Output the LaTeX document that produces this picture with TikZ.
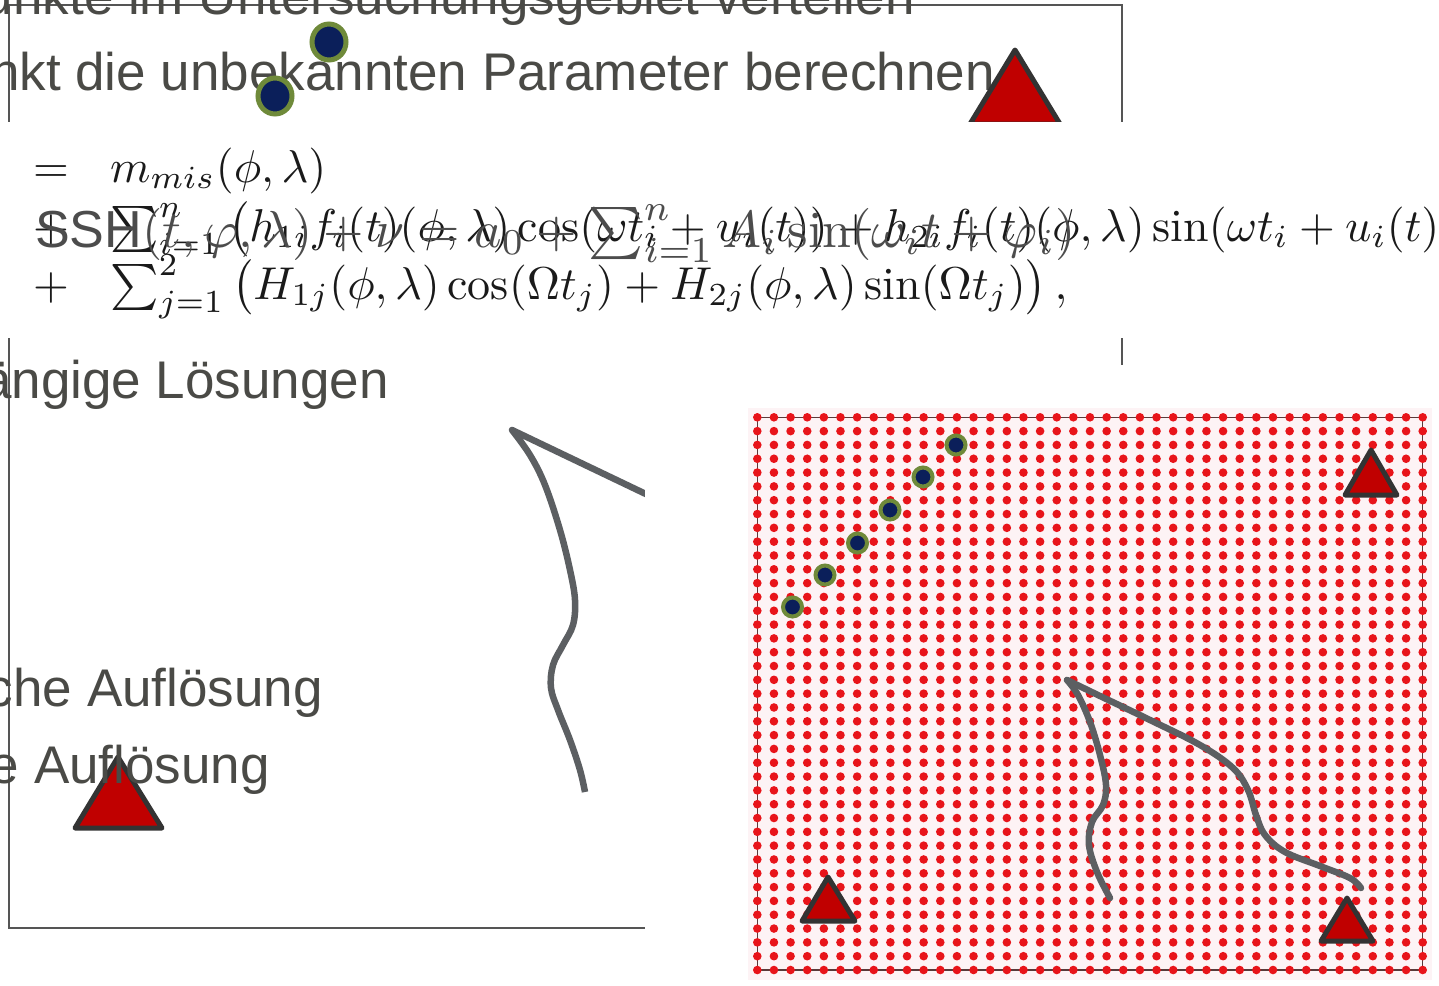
\documentclass[tikz,border=0pt]{standalone}
\usepackage{fontspec}
\usepackage{graphicx}
\newfontfamily\arial{Liberation Sans}
\definecolor{txtgray}{HTML}{4A4A46}
\definecolor{framegray}{HTML}{555555}
\definecolor{trired}{HTML}{C00000}
\definecolor{tristroke}{HTML}{333333}
\definecolor{navy}{HTML}{0B1F5A}
\definecolor{olive}{HTML}{6F8A3A}
\definecolor{gridred}{HTML}{E8141A}
\definecolor{gridline}{HTML}{5A3A3A}
\definecolor{curvegray}{HTML}{5C5F62}
\definecolor{fmlblack}{HTML}{1A1A1A}
\definecolor{sshgray}{HTML}{4C4C4C}
\definecolor{gridbg}{HTML}{FDF3F5}
\begin{document}
\begin{tikzpicture}[x=1pt,y=-1pt,
  slidetext/.style={font=\arial\fontsize{53}{60}\selectfont, text=txtgray, inner sep=0pt, anchor=base east},
  fml/.style={text=fmlblack, inner sep=0pt},
  sshtext/.style={text=sshgray, inner sep=0pt, anchor=base west},
  station/.style={fill=trired, draw=tristroke, line width=5pt, line join=round},
  bigdot/.style={fill=navy, draw=olive, line width=5pt},
  smalldot/.style={fill=navy, draw=olive, line width=4pt},
  curve/.style={draw=curvegray, line width=6.5pt, line join=round, line cap=round},
  frame/.style={draw=framegray, line width=2pt}]
\useasboundingbox (0,0) rectangle (1439,985);
\fill[white] (0,0) rectangle (1439,985);
\clip (0,0) rectangle (1439,985);

% slide frame
\draw[frame] (9,5) rectangle (1122,928);

% top bullet texts (cropped at the left)
\node[slidetext] (t1) at (915,14) {unkte im Untersuchungsgebiet verteilen};
\node[slidetext] (t2) at (995,90) {nkt die unbekannten Parameter berechnen};

% top points
\draw[bigdot] (329,42) ellipse (17pt and 18pt);
\draw[bigdot] (275,96) ellipse (17pt and 18pt);

% top station
\draw[station] (1015,50) -- (1060,124) -- (970,124) -- cycle;

% formula image
\fill[white] (0,122) rectangle (1439,338);
\node[fml, anchor=base] (eq1) at (51,182) {\scalebox{4.6}{$=$}};
\node[fml, anchor=base west] (r1) at (110,182) {\scalebox{4.6}{$m_{mis}(\phi,\lambda)$}};
\node[fml, anchor=base] (eq2) at (51,241) {\scalebox{4.6}{$+$}};
\node[fml, anchor=base west] (r2) at (110,241) {\scalebox{4.6}{$\sum_{i=1}^{n}\,\bigl(h_{1i}f_i(t)(\phi,\lambda)\cos(\omega t_i+u_i(t))+h_{2i}f_i(t)(\phi,\lambda)\sin(\omega t_i+u_i(t))\bigr)$}};
\node[fml, anchor=base] (eq3) at (51,299) {\scalebox{4.6}{$+$}};
\node[fml, anchor=base west] (r3) at (110,299) {\scalebox{4.6}{$\sum_{j=1}^{2}\,\bigl(H_{1j}(\phi,\lambda)\cos(\Omega t_j)+H_{2j}(\phi,\lambda)\sin(\Omega t_j)\bigr)\,,$}};
\node[sshtext] (ssh) at (35,247) {\resizebox{1040pt}{!}{\arial SSH$(t,\varphi,\lambda)+\nu=a_0+\sum_{i=1}^{n}A_i\sin(\omega_i t+\varphi_i)$}};

% left bullet texts
\node[slidetext] (t3) at (389,398) {ängige Lösungen};
\node[slidetext] (t4) at (323,706) {che Auflösung};
\draw[station] (118,757) -- (162,828) -- (75,828) -- cycle;
\node[slidetext] (t5) at (270,783) {e Auflösung};

% left hand-drawn curve
\draw[curve, line cap=butt] plot[smooth, tension=0.6] coordinates {(585,792) (580,770) (570,740) (558,710) (551,688) (553,665) (563,645) (573,625) (575,600) (570,570) (560,530) (545,485) (530,455) (512,430)} -- (650,496);

% grid image
\fill[white] (645,365) rectangle (1439,985);
\fill[gridbg] (748,408) rectangle (1432,980);
\draw[gridline, line width=1.5pt] (757.3,417.3) rectangle (1422.7,970);
\foreach \i in {0,...,40}{
  \foreach \j in {0,...,40}{
    \fill[gridred] (757.3+\i*16.635,417.3+\j*13.8175) circle (4.3pt);
  }
}

% points on the grid
\draw[smalldot] (956,445) circle (9.5pt);
\draw[smalldot] (923,477) circle (9.5pt);
\draw[smalldot] (890,510) circle (9.5pt);
\draw[smalldot] (857.5,543) circle (9.5pt);
\draw[smalldot] (825,575) circle (9.5pt);
\draw[smalldot] (792.5,607) circle (9.5pt);

% curve on the grid
\draw[curve] plot[smooth, tension=0.6] coordinates {(1110,898) (1097,872) (1089,845) (1092,822) (1103,805) (1106,785) (1100,755) (1090,722) (1078,695) (1067,680)};
\draw[curve] plot[smooth, tension=0.6] coordinates {(1067,680) (1100,696) (1150,720) (1200,745) (1233,768) (1248,790) (1256,815) (1265,835) (1285,852) (1320,866) (1350,878) (1361,888)};

% stations on the grid
\draw[station] (1371,450) -- (1397,495) -- (1345,495) -- cycle;
\draw[station] (828,877) -- (855,921) -- (802,921) -- cycle;
\draw[station] (1347,898) -- (1373,941) -- (1321,941) -- cycle;
\end{tikzpicture}
\end{document}
